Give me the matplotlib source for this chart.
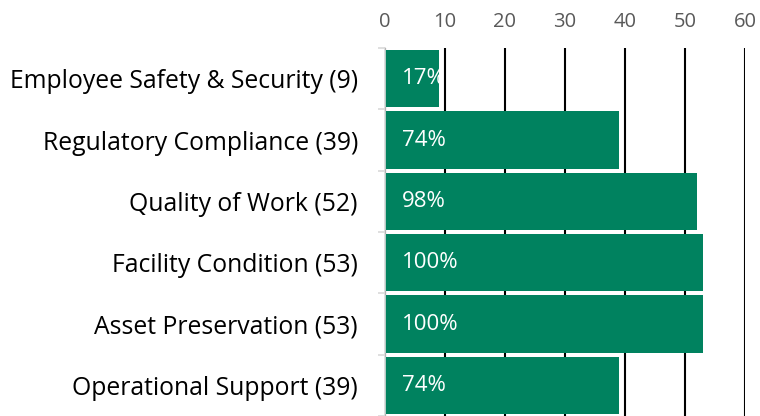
import matplotlib
matplotlib.use('Agg')
import matplotlib.pyplot as plt
import numpy as np

# Data
Categories = ['Employee Safety & Security', 'Regulatory Compliance', 'Quality of Work',
              'Facility Condition', 'Asset Preservation', 'Operational Support']
Counts     = [9, 39, 52, 53, 53, 39]
Percents   = ['17%', '74%', '98%', '100%', '100%', '74%']
X_Ticks    = [0, 10, 20, 30, 40, 50, 60]

Bar_Color  = '#00825F'
Font       = ['Open Sans', 'DejaVu Sans']

plt.rcParams['font.family'] = Font

fig = plt.figure(figsize=(7.6, 4.16), dpi=100)
ax = fig.add_axes([385/760, 0, 360/760, 1 - 48/416])

y = np.arange(len(Categories))
bars = ax.barh(y, Counts, height=0.935, color=Bar_Color, zorder=2)

for b, p in zip(bars, Percents):
    t = ax.annotate(p, xy=(0, b.get_y() + b.get_height()/2), xytext=(12, 0),
                    textcoords='offset points', va='center', ha='left',
                    color='white', fontsize=16, zorder=3)
    t.set_clip_path(b)

ax.set_xlim(0, 60)
ax.set_ylim(-0.5 + (416 - 48)/62, -0.5)

ax.xaxis.tick_top()
ax.set_xticks(X_Ticks)
ax.tick_params(axis='x', length=0, pad=11.5, labelsize=14.5, labelcolor='#595959')
ax.grid(axis='x', color='black', linewidth=1.5, zorder=1)
ax.set_axisbelow(True)

ax.set_yticks(y)
ax.set_yticklabels(['%s (%d)' % (c, n) for c, n in zip(Categories, Counts)])
ax.tick_params(axis='y', which='major', length=0, pad=19.5, labelsize=17.8, labelcolor='black')
ax.set_yticks(np.arange(-0.5, len(Categories)), minor=True)
ax.tick_params(axis='y', which='minor', length=5, width=1.2, color='#D9D9D9')

for s in ['top', 'right', 'bottom']:
    ax.spines[s].set_visible(False)
ax.spines['left'].set_color('#D9D9D9')
ax.spines['left'].set_linewidth(1.2)

plt.savefig('out.png', dpi=100)
plt.close()
